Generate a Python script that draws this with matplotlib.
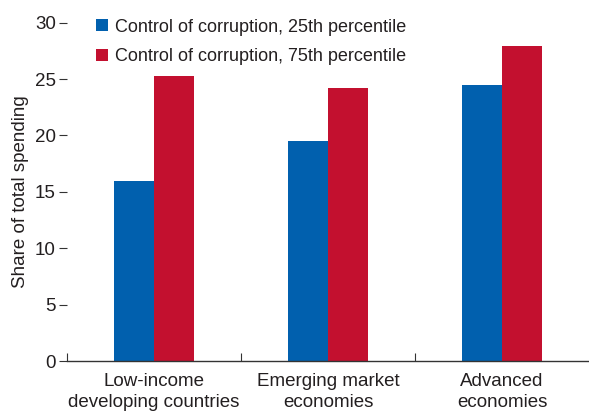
import numpy as np
import matplotlib.pyplot as plt

plt.rcParams['font.family'] = ['Liberation Sans Narrow', 'Liberation Sans', 'DejaVu Sans']

categories = ["Low-income\ndeveloping countries", "Emerging market\neconomies", "Advanced\neconomies"]
cc_25 = [16.0, 19.5, 24.5]
cc_75 = [25.3, 24.25, 27.9]
labels = ["Control of corruption, 25th percentile", "Control of corruption, 75th percentile"]

blue = '#0160AE'
red = '#C3102F'
txt = '#231F20'

fig = plt.figure(figsize=(5.89, 4.12), dpi=100)
ax = fig.add_axes([67/589, 51/412, 1 - 67/589, (361 - 22.7)/412])

x = np.arange(len(categories))
w = 0.232
ax.bar(x - w/2, cc_25, w, color=blue, label=labels[0])
ax.bar(x + w/2, cc_75, w, color=red, label=labels[1])

ax.set_xlim(-0.5, 2.5)
ax.set_ylim(0, 30)
ax.set_yticks(range(0, 31, 5))
ax.tick_params(axis='y', direction='out', length=6, width=0.8, pad=2, labelsize=13.5, colors='#333333', labelcolor=txt)
ax.set_xticks(x)
ax.set_xticklabels(categories, fontsize=13.5, color=txt, linespacing=1.25)
ax.tick_params(axis='x', length=0, pad=9)
# ticks at the category boundaries, pointing up
ax.set_xticks([-0.5, 0.5, 1.5], minor=True)
ax.tick_params(axis='x', which='minor', direction='in', length=6, width=0.8, colors='#333333')

for s in ['top', 'right', 'left']:
    ax.spines[s].set_visible(False)
ax.spines['bottom'].set_color('#333333')
ax.spines['bottom'].set_linewidth(1.0)

ax.set_ylabel("Share of total spending", fontsize=13.5, color=txt, labelpad=4)

leg = ax.legend(loc='upper left', bbox_to_anchor=(0.025, 1.06), frameon=False, fontsize=13,
                handlelength=0.65, handleheight=0.65, handletextpad=0.4, labelspacing=0.7)
for t in leg.get_texts():
    t.set_color(txt)

fig.savefig("out.png", dpi=100)
